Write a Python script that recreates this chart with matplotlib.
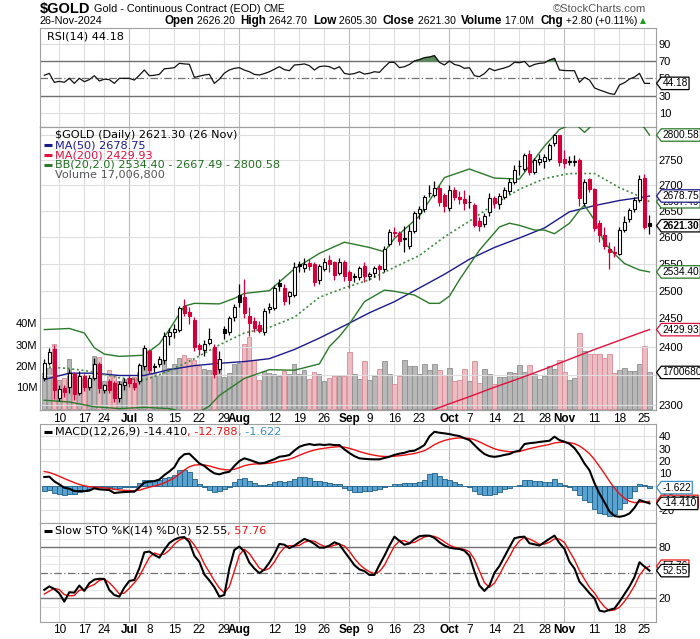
import numpy as np
import pandas as pd
import matplotlib
matplotlib.use("Agg")
import matplotlib.pyplot as plt
from matplotlib.path import Path
from matplotlib.transforms import blended_transform_factory as blend
from matplotlib.ticker import NullLocator

plt.rcParams['font.family'] = ['DejaVu Sans']

# trading days shown (Jun 5 .. Nov 26 2024, CME holidays removed)
days = pd.bdate_range('2024-06-05', '2024-11-26')
days = days.drop(pd.to_datetime(['2024-06-19', '2024-07-04', '2024-09-02']))

tick_dates = ['2024-06-10', '2024-06-17', '2024-06-24', '2024-07-01', '2024-07-08', '2024-07-15',
              '2024-07-22', '2024-07-29', '2024-08-01', '2024-08-12', '2024-08-19', '2024-08-26',
              '2024-09-03', '2024-09-09', '2024-09-16', '2024-09-23', '2024-10-01', '2024-10-07',
              '2024-10-14', '2024-10-21', '2024-10-28', '2024-11-01', '2024-11-11', '2024-11-18',
              '2024-11-25']
tick_lbls = ['10', '17', '24', 'Jul', '8', '15', '22', '29', 'Aug', '12', '19', '26',
             'Sep', '9', '16', '23', 'Oct', '7', '14', '21', '28', 'Nov', '11', '18', '25']

prev_close = 2367
opens = [2345, 2372, 2395, 2312, 2328, 2331, 2352, 2320, 2349, 2331,
         2345, 2370, 2325, 2340, 2338, 2311, 2333, 2345, 2338, 2340,
         2366, 2393, 2366, 2369, 2376, 2419, 2425, 2430, 2472, 2462,
         2447, 2403, 2394, 2406, 2400, 2362, 2431, 2426, 2453, 2492,
         2488, 2455, 2446, 2438, 2425, 2466, 2468, 2514, 2505, 2490,
         2493, 2549, 2541, 2551, 2549, 2520, 2540, 2556, 2553, 2533,
         2552, 2535, 2526, 2525, 2545, 2526, 2533, 2546, 2540, 2587,
         2610, 2607, 2596, 2583, 2612, 2645, 2653, 2684, 2681, 2695,
         2680, 2656, 2690, 2676, 2672, 2668, 2661, 2630, 2624, 2648,
         2674, 2663, 2677, 2689, 2707, 2738, 2733, 2763, 2727, 2746,
         2748, 2753, 2785, 2800, 2753, 2748, 2746, 2751, 2666, 2712,
         2692, 2626, 2604, 2577, 2572, 2568, 2613, 2634, 2653, 2671,
         2715, 2626.2]
highs = [2378, 2398, 2403, 2334, 2333, 2362, 2356, 2358, 2352, 2350,
         2381, 2373, 2336, 2344, 2340, 2340, 2345, 2350, 2345, 2372,
         2403, 2396, 2372, 2384, 2425, 2432, 2440, 2472, 2484, 2470,
         2452, 2406, 2412, 2432, 2405, 2392, 2436, 2454, 2476, 2512,
         2522, 2470, 2452, 2445, 2468, 2478, 2510, 2522, 2512, 2500,
         2552, 2554, 2560, 2558, 2552, 2550, 2560, 2565, 2555, 2560,
         2556, 2538, 2532, 2546, 2552, 2535, 2545, 2550, 2583, 2615,
         2618, 2612, 2620, 2622, 2650, 2660, 2680, 2700, 2709, 2700,
         2684, 2700, 2696, 2688, 2690, 2680, 2665, 2638, 2645, 2685,
         2678, 2685, 2697, 2714, 2740, 2750, 2765, 2770, 2755, 2762,
         2763, 2784, 2802, 2801, 2770, 2758, 2760, 2755, 2712, 2715,
         2694, 2632, 2618, 2590, 2583, 2618, 2640, 2655, 2677, 2720,
         2722, 2642.7]
lows = [2340, 2368, 2310, 2306, 2314, 2320, 2308, 2316, 2324, 2326,
        2342, 2320, 2320, 2320, 2305, 2305, 2326, 2330, 2325, 2336,
        2360, 2353, 2356, 2364, 2370, 2403, 2415, 2425, 2455, 2440,
        2393, 2386, 2384, 2402, 2345, 2355, 2413, 2420, 2446, 2470,
        2450, 2418, 2425, 2424, 2420, 2460, 2465, 2500, 2474, 2475,
        2488, 2535, 2535, 2538, 2508, 2512, 2536, 2535, 2520, 2528,
        2518, 2505, 2515, 2520, 2515, 2520, 2525, 2520, 2535, 2582,
        2600, 2585, 2572, 2578, 2608, 2635, 2648, 2676, 2676, 2660,
        2647, 2650, 2670, 2664, 2652, 2655, 2618, 2612, 2618, 2640,
        2655, 2654, 2672, 2683, 2703, 2720, 2728, 2720, 2722, 2740,
        2735, 2747, 2778, 2738, 2735, 2740, 2738, 2659, 2660, 2686,
        2612, 2590, 2578, 2540, 2563, 2566, 2610, 2628, 2648, 2668,
        2615, 2605.3]
closes = [2372, 2390, 2325, 2327, 2322, 2354, 2318, 2349, 2331, 2346,
          2369, 2328, 2333, 2326, 2311, 2336, 2339, 2338, 2331, 2368,
          2397, 2360, 2365, 2378, 2419, 2426, 2431, 2469, 2459, 2455,
          2399, 2395, 2405, 2413, 2352, 2378, 2424, 2450, 2471, 2480,
          2460, 2442, 2432, 2428, 2463, 2471, 2505, 2508, 2482, 2497,
          2543, 2545, 2549, 2546, 2515, 2546, 2552, 2549, 2528, 2552,
          2526, 2520, 2525, 2541, 2526, 2530, 2541, 2540, 2578, 2610,
          2608, 2593, 2597, 2612, 2645, 2653, 2676, 2685, 2694, 2668,
          2659, 2690, 2677, 2672, 2666, 2667, 2623, 2621, 2639, 2674,
          2665, 2679, 2690, 2707, 2730, 2737, 2760, 2727, 2751, 2753,
          2757, 2780, 2800, 2746, 2744, 2746, 2749, 2674, 2707, 2692,
          2617, 2604, 2583, 2571, 2569, 2613, 2629, 2651, 2671, 2712,
          2618.5, 2621.3]
# volume in millions of contracts
volume = [16.8, 19.0, 30.1, 13.7, 14.6, 23.4, 16.1, 14.9, 14.6, 13.7,
          24.5, 24.2, 12.8, 18.3, 15.7, 12.8, 14.1, 14.6, 14.9, 17.3,
          28.6, 27.4, 16.6, 15.7, 22.9, 19.3, 21.1, 23.9, 25.0, 23.5,
          22.6, 19.9, 18.8, 18.0, 28.5, 23.4, 14.9, 16.6, 21.1, 21.4,
          30.4, 33.5, 22.6, 13.7, 17.7, 16.8, 16.1, 15.2, 17.7, 16.1,
          21.1, 16.1, 18.3, 14.1, 17.3, 16.1, 12.8, 14.4, 15.2, 15.2,
          15.5, 26.5, 16.1, 14.1, 22.1, 13.7, 15.2, 18.8, 22.1, 16.1,
          11.5, 15.2, 22.6, 19.9, 19.9, 16.1, 20.8, 18.0, 20.8, 18.0,
          15.7, 19.3, 12.8, 13.4, 18.8, 12.8, 22.3, 12.0, 18.8, 16.1,
          11.8, 14.9, 14.9, 17.3, 16.8, 20.3, 17.3, 20.3, 16.1, 14.1,
          15.2, 19.9, 18.5, 23.0, 17.3, 13.7, 14.6, 35.5, 27.0, 25.4,
          25.4, 25.4, 23.5, 25.4, 16.6, 18.3, 19.3, 17.6, 17.6, 21.1,
          29.2, 17.0068]

ma50_idx = [0, 5, 10, 15, 20, 25, 30, 35, 40, 45, 50, 55, 60, 65, 70, 75, 80, 85, 90, 95,
            100, 105, 110, 115, 120, 121]
ma50 = [2343, 2354, 2354, 2350, 2350, 2360, 2367, 2371, 2374, 2379, 2395, 2415, 2437, 2460,
        2480, 2505, 2530, 2558, 2580, 2598, 2617, 2648, 2660, 2670, 2677, 2678.75]
ma200_idx = [75, 80, 85, 90, 95, 100, 105, 110, 115, 120, 121]
ma200 = [2283, 2299, 2314, 2330, 2345, 2361, 2378, 2395, 2411, 2427, 2429.93]
bbu_idx = [0, 5, 8, 10, 12, 15, 20, 23, 25, 28, 30, 35, 38, 40, 45, 50, 55, 60, 65, 68, 70,
           75, 80, 85, 90, 95, 100, 103, 106, 108, 110, 115, 120, 121]
bb_upper = [2430, 2432, 2424, 2398, 2387, 2383, 2385, 2405, 2430, 2472, 2477, 2476, 2486,
            2495, 2500, 2540, 2569, 2590, 2580, 2572, 2597, 2640, 2715, 2732, 2714, 2712,
            2778, 2812, 2825, 2806, 2825, 2860, 2815, 2800.58]
bbm_idx = [0, 5, 10, 15, 20, 25, 30, 35, 40, 45, 50, 55, 60, 65, 70, 75, 80, 85, 90, 95,
           100, 105, 110, 115, 120, 121]
bb_mid = [2365, 2362, 2356, 2346, 2342, 2358, 2379, 2403, 2424, 2434, 2452, 2488, 2505,
          2520, 2543, 2565, 2600, 2630, 2663, 2692, 2713, 2723, 2723, 2695, 2674, 2667.49]
bbl_idx = [0, 5, 10, 15, 20, 25, 30, 33, 35, 40, 45, 50, 55, 57, 59, 61, 64, 68, 70, 74, 77,
           79, 81, 83, 87, 91, 93, 95, 98, 100, 102, 105, 107, 108, 110, 112, 114, 116, 119, 121]
bb_lower = [2308, 2305, 2297, 2294, 2296, 2294, 2284, 2298, 2316, 2345, 2360, 2359, 2370,
            2400, 2418, 2440, 2480, 2501, 2499, 2492, 2477, 2477, 2490, 2520, 2575, 2619,
            2626, 2622, 2613, 2613, 2606, 2626, 2651, 2661, 2632, 2589, 2568, 2550, 2538, 2534.40]

rsi = [53.5, 55.7, 45.4, 46.5, 45.4, 50.0, 44.2, 50.0, 46.1, 48.5,
       53.0, 47.0, 49.0, 48.5, 44.2, 50.0, 50.0, 50.0, 48.0, 53.5,
       59.6, 53.0, 53.5, 54.6, 61.0, 61.5, 62.3, 67.3, 66.6, 66.2,
       51.1, 52.5, 53.8, 54.6, 44.2, 49.0, 56.0, 59.6, 61.5, 62.3,
       59.5, 57.6, 54.5, 53.8, 55.5, 57.6, 60.5, 63.4, 60.0, 58.8,
       65.4, 65.8, 66.6, 64.6, 59.6, 63.5, 64.2, 63.4, 60.7, 63.4,
       55.7, 54.6, 55.5, 57.6, 54.9, 55.8, 57.6, 56.9, 63.0, 68.4,
       68.4, 62.3, 63.4, 66.0, 70.0, 71.5, 73.8, 74.5, 76.1, 68.4,
       65.4, 70.0, 66.0, 64.6, 61.5, 62.3, 53.0, 51.9, 55.5, 61.5,
       58.8, 60.5, 62.0, 64.0, 68.4, 68.0, 69.5, 63.4, 66.0, 67.3,
       67.8, 71.0, 73.0, 59.6, 59.0, 58.8, 58.8, 45.4, 51.1, 48.0,
       39.0, 36.5, 34.6, 32.5, 31.5, 42.3, 45.0, 49.2, 51.5, 55.7,
       44.2, 44.18]
macd = [7.0, 7.3, 3.5, 1.0, -1.7, -2.5, -4.4, -4.4, -4.5, -4.0,
        -2.2, -3.0, -3.3, -3.6, -6.0, -5.5, -5.2, -5.0, -4.9, -1.5,
        2.5, 3.2, 3.7, 5.0, 8.6, 11.5, 15.0, 22.0, 25.5, 26.0,
        22.0, 18.1, 16.0, 12.7, 10.0, 9.2, 10.5, 11.3, 16.0, 20.0,
        22.2, 21.0, 19.5, 18.1, 18.5, 20.0, 21.5, 23.5, 24.0, 24.9,
        28.5, 31.6, 33.0, 33.8, 33.0, 33.5, 33.0, 33.5, 33.0, 33.0,
        29.5, 26.5, 24.0, 22.2, 21.8, 21.5, 21.4, 21.4, 22.5, 23.5,
        25.0, 26.0, 26.7, 28.0, 28.4, 30.5, 33.0, 40.0, 43.8, 43.0,
        42.5, 41.9, 41.0, 40.3, 38.5, 37.1, 33.0, 29.0, 25.7, 24.0,
        23.4, 24.0, 25.0, 25.7, 27.5, 28.4, 33.8, 34.5, 34.9, 35.5,
        36.0, 36.5, 39.8, 37.0, 35.7, 34.0, 30.5, 25.0, 18.0, 12.5,
        2.0, -6.5, -13.5, -21.0, -24.7, -25.3, -24.5, -22.6, -18.0, -11.7,
        -13.1, -14.41]
signal = [11.5, 10.7, 9.3, 7.6, 5.8, 4.1, 2.4, 1.0, -0.1, -0.9,
          -1.2, -1.5, -1.9, -2.2, -3.0, -3.5, -3.8, -4.0, -4.2, -3.7,
          -2.4, -1.3, -0.3, 0.8, 2.3, 4.2, 6.3, 9.5, 12.7, 15.3,
          16.7, 17.0, 16.8, 16.0, 14.8, 13.7, 13.0, 12.7, 13.3, 14.7,
          16.2, 17.1, 17.6, 17.7, 17.9, 18.3, 18.9, 19.9, 20.7, 21.5,
          22.9, 24.7, 26.3, 27.8, 28.9, 29.8, 30.4, 31.0, 31.4, 31.7,
          31.3, 30.3, 29.1, 27.7, 26.5, 25.5, 24.7, 24.0, 23.7, 23.7,
          23.9, 24.3, 24.8, 25.5, 26.1, 27.2, 28.4, 30.7, 33.3, 35.2,
          36.7, 37.7, 38.4, 38.8, 38.7, 38.4, 37.3, 35.6, 33.6, 31.7,
          30.0, 28.8, 28.1, 27.6, 27.6, 27.7, 28.9, 30.1, 31.0, 31.9,
          32.7, 33.5, 34.7, 35.2, 35.3, 35.0, 34.1, 32.3, 29.4, 26.0,
          21.2, 15.6, 9.8, 3.6, -2.0, -6.7, -10.2, -12.7, -13.8, -13.4,
          -13.3, -12.788]
hist = [-4.5, -3.4, -5.8, -6.6, -7.5, -6.6, -6.8, -5.4, -4.4, -3.1,
        -1.0, -1.5, -1.4, -1.4, -3.0, -2.0, -1.4, -1.0, -0.7, 2.2,
        4.9, 4.5, 4.0, 4.2, 6.3, 7.3, 8.7, 12.5, 12.8, 10.7,
        5.3, 1.1, -0.8, -3.3, -4.8, -4.5, -2.5, -1.4, 2.7, 5.3,
        6.0, 3.9, 1.9, 0.4, 0.6, 1.7, 2.6, 3.6, 3.3, 3.4,
        5.6, 6.9, 6.7, 6.0, 4.1, 3.7, 2.6, 2.5, 1.6, 1.3,
        -1.8, -3.8, -5.1, -5.5, -4.7, -4.0, -3.3, -2.6, -1.2, -0.2,
        1.1, 1.7, 1.9, 2.5, 2.3, 3.3, 4.6, 9.3, 10.5, 7.8,
        5.8, 4.2, 2.6, 1.5, -0.2, -1.3, -4.3, -6.6, -7.9, -7.7,
        -6.6, -4.8, -3.1, -1.9, -0.1, 0.7, 4.9, 4.4, 3.9, 3.6,
        3.3, 3.0, 5.1, 1.8, 0.4, -1.0, -3.6, -7.3, -11.4, -13.5,
        -19.2, -22.1, -23.3, -24.6, -22.7, -18.6, -14.3, -9.9, -4.2, 1.7,
        0.2, -1.622]
sto_k = [30.0, 34.0, 31.0, 25.9, 16.1, 27.1, 26.7, 35.0, 28.7, 37.8,
         42.0, 43.0, 42.8, 29.8, 23.9, 22.0, 32.6, 40.4, 41.6, 55.3,
         74.0, 75.0, 71.0, 67.8, 77.0, 85.0, 89.0, 91.4, 92.0, 86.0,
         70.0, 63.0, 48.0, 41.0, 33.0, 22.0, 24.0, 55.3, 76.9, 80.8,
         75.0, 62.0, 55.0, 49.5, 54.0, 62.0, 72.0, 84.0, 83.0, 79.0,
         82.0, 86.0, 89.8, 87.5, 84.0, 79.6, 79.6, 82.0, 85.9, 83.5,
         75.0, 67.1, 59.0, 54.0, 52.0, 47.5, 47.5, 59.2, 70.0, 82.0,
         92.5, 87.5, 83.0, 84.5, 89.5, 93.0, 93.7, 93.7, 91.0, 85.9,
         82.0, 79.6, 78.5, 78.0, 76.0, 70.0, 51.4, 35.0, 28.7, 35.0,
         50.0, 58.0, 69.0, 80.0, 90.6, 92.0, 92.5, 84.7, 83.5, 82.0,
         86.0, 90.0, 93.7, 85.0, 78.0, 63.0, 55.0, 39.6, 33.0, 26.0,
         20.0, 5.5, 4.3, 6.5, 8.0, 16.1, 25.0, 34.0, 45.0, 62.4,
         57.3, 52.55]
sto_d = [25.0, 28.5, 31.5, 30.3, 24.3, 23.0, 23.3, 29.6, 30.1, 33.8,
         36.2, 41.0, 42.6, 38.5, 32.2, 25.2, 26.2, 31.7, 38.2, 45.8,
         57.0, 68.1, 73.3, 71.3, 71.9, 76.6, 83.7, 88.5, 90.8, 89.8,
         82.7, 73.0, 60.3, 50.7, 40.7, 32.0, 26.3, 33.8, 52.1, 71.0,
         77.6, 72.6, 64.0, 55.5, 52.8, 55.2, 62.7, 72.7, 79.7, 82.0,
         81.3, 82.3, 85.9, 87.8, 87.1, 83.7, 81.1, 80.4, 82.5, 83.8,
         81.5, 75.2, 67.0, 60.0, 55.0, 51.2, 49.0, 51.4, 58.9, 70.4,
         81.5, 87.3, 87.7, 85.0, 85.7, 89.0, 92.1, 93.5, 92.8, 90.2,
         86.3, 82.5, 80.0, 78.7, 77.5, 74.7, 65.8, 52.1, 38.4, 32.9,
         37.9, 47.7, 59.0, 69.0, 79.9, 87.5, 91.7, 89.7, 86.9, 83.4,
         83.8, 86.0, 89.9, 89.6, 85.6, 75.3, 65.3, 52.5, 42.5, 32.9,
         26.3, 17.2, 9.9, 5.4, 6.3, 9.5, 16.4, 25.0, 34.7, 47.1,
         54.9, 57.76]

# ------------------------------------------------------------------
RED = '#d2003a'
NAVY = '#1a1a8c'
CRIM = '#e0103c'
GREEN = '#2a7a2a'
GRID = '#dedede'
TICKF = 'Liberation Sans'
LEGSZ = 8.1

x = np.arange(len(days))
o = np.array(opens); h = np.array(highs); l = np.array(lows); c = np.array(closes)
prev = np.r_[prev_close, c[:-1]]
down = c < prev
col = np.where(down, RED, 'black')
face = np.where(c > o, 'white', col)
tpos = days.get_indexer(pd.to_datetime(tick_dates))
is_month = [not s.isdigit() for s in tick_lbls]

W, H = 700, 639
fig = plt.figure(figsize=(7, 6.39), dpi=100)


def box(top, bottom):
    return [40 / W, 1 - bottom / H, 616 / W, (bottom - top) / H]


ax_rsi = fig.add_axes(box(28, 127))
ax = fig.add_axes(box(127, 410))
ax_macd = fig.add_axes(box(424, 523.3))
ax_sto = fig.add_axes(box(523.3, 621.7))
axv = ax.twinx()


def base_style(a, vgrid=True):
    a.set_xlim(-0.86, 122.3)
    for s in a.spines.values():
        s.set_color('#a0a0a0')
        s.set_linewidth(0.8)
    a.tick_params(length=0, labelsize=8, pad=2)
    if vgrid:
        for p, m in zip(tpos, is_month):
            a.axvline(p, color='#bcbcbc' if m else GRID, lw=0.8, zorder=0)


def right_ticks(a, vals, labels=None):
    a.yaxis.tick_right()
    a.set_yticks(vals)
    a.set_yticklabels(labels if labels else [str(v) for v in vals], fontfamily=TICKF, fontsize=8)
    a.yaxis.set_minor_locator(NullLocator())


def xlabels(a, show):
    a.set_xticks(tpos)
    if show:
        a.set_xticklabels(tick_lbls, fontfamily=TICKF, fontsize=8.5)
        for t, m in zip(a.get_xticklabels(), is_month):
            if m:
                t.set_fontweight('bold')
    else:
        a.set_xticklabels([])


def tag_shape(x0, y0, width, height, mutation_size):
    # value tag: box with a pointed left end
    pad = 0.12 * mutation_size
    x0 -= pad
    y0 -= pad
    w = width + 2 * pad
    hh = height + 2 * pad
    tip = hh * 0.38
    verts = [(x0, y0), (x0 + w, y0), (x0 + w, y0 + hh), (x0, y0 + hh), (x0 - tip, y0 + hh / 2), (x0, y0)]
    return Path(verts, closed=True)


def tag(a, y, s, ec, bold=False, ytrans=None):
    tr = blend(a.transAxes, ytrans if ytrans is not None else a.transData)
    a.text(1.0105, y, s, transform=tr, ha='left', va='center', fontsize=7.3, fontfamily=TICKF,
           fontweight='bold' if bold else 'normal', clip_on=False, zorder=20,
           bbox=dict(boxstyle=tag_shape, fc='white', ec=ec, lw=0.9))


def seq(a, xf, yf, parts, size=LEGSZ):
    r = fig.canvas.get_renderer()
    xp, yp = a.transAxes.transform((xf, yf))
    for s, color in parts:
        t = fig.text(xp / W, yp / H, s, color=color, fontsize=size, va='center', ha='left')
        xp = t.get_window_extent(r).x1


def dash(a, yf, color, lw=2.2):
    a.plot([0.006, 0.019], [yf, yf], transform=a.transAxes, color=color, lw=lw,
           solid_capstyle='butt', clip_on=False, zorder=20)


# ---------------- RSI ----------------
base_style(ax_rsi)
ax_rsi.set_ylim(-6.1, 108)
for v in (10, 90):
    ax_rsi.axhline(v, color=GRID, lw=0.8, zorder=0)
for v in (30, 70):
    ax_rsi.axhline(v, color='#707070', lw=1.0, zorder=1)
ax_rsi.axhline(50, color='#707070', lw=0.9, ls=(0, (6, 2, 1, 2)), zorder=1)
rsi_a = np.array(rsi)
ax_rsi.fill_between(x, rsi_a, 70, where=rsi_a >= 70, interpolate=True, color='#5c8c5c', zorder=2)
ax_rsi.plot(x, rsi_a, color='#111111', lw=0.9, zorder=3)
right_ticks(ax_rsi, [10, 30, 50, 70, 90])
xlabels(ax_rsi, False)
seq(ax_rsi, 0.012, 0.919, [('RSI(14) 44.18', 'black')])
tag(ax_rsi, 44.18, '44.18', 'black')

# ---------------- price + volume ----------------
axv.patch.set_visible(True)
axv.patch.set_facecolor('white')
ax.set_zorder(axv.get_zorder() + 1)
ax.patch.set_visible(False)
base_style(axv)
base_style(ax, vgrid=False)
axv.set_ylim(-0.47, 131.2)
axv.bar(x, volume, width=0.84, color=np.where(down, '#ebbcc1', '#b8b8b8'),
        edgecolor=np.where(down, '#d88a95', '#8e8e8e'), linewidth=0.6, zorder=2)
axv.yaxis.tick_left()
axv.set_yticks([10, 20, 30, 40])
axv.set_yticklabels(['10M', '20M', '30M', '40M'], fontfamily=TICKF, fontsize=8)
axv.tick_params(axis='y', length=0, pad=2)

ax.set_yscale('log')
ax.set_ylim(2291.6, 2817)
for v in range(2300, 2801, 50):
    ax.axhline(v, color=GRID, lw=0.8, zorder=0)
right_ticks(ax, list(range(2300, 2751, 50)))
ax.yaxis.set_minor_formatter(plt.NullFormatter())
xlabels(ax, True)

ax.plot(ma200_idx, ma200, color=CRIM, lw=1.0, zorder=3)
ax.plot(ma50_idx, ma50, color=NAVY, lw=1.0, zorder=3)
ax.plot(bbu_idx, bb_upper, color=GREEN, lw=1.0, zorder=3)
ax.plot(bbl_idx, bb_lower, color=GREEN, lw=1.0, zorder=3)
ax.plot(bbm_idx, bb_mid, color='#3d8c3d', lw=1.2, ls=(0, (1.2, 1.6)), zorder=3)

ax.vlines(x, l, h, colors=col, lw=0.9, zorder=4)
ax.bar(x, np.maximum(np.abs(c - o), 0.6), bottom=np.minimum(o, c), width=0.7,
       color=face, edgecolor=col, linewidth=0.8, zorder=5)

seq(ax, 0.024, 0.972, [('$GOLD (Daily) 2621.30 (26 Nov)', 'black')])
seq(ax, 0.024, 0.936, [('MA(50) 2678.75', NAVY)])
seq(ax, 0.024, 0.901, [('MA(200) 2429.93', CRIM)])
seq(ax, 0.024, 0.867, [('BB(20,2.0) 2534.40 - 2667.49 - 2800.58', '#1f6f1f')])
seq(ax, 0.024, 0.832, [('Volume 17,006,800', '#555555')])
dash(ax, 0.936, NAVY)
dash(ax, 0.901, CRIM)
dash(ax, 0.867, GREEN)

tag(ax, 17.0068, '1700680', 'black', ytrans=axv.transData)
tag(ax, 2800.58, '2800.58', GREEN)
tag(ax, 2667.49, '2667.49', GREEN)
tag(ax, 2678.75, '2678.75', NAVY)
tag(ax, 2534.40, '2534.40', GREEN)
tag(ax, 2429.93, '2429.93', CRIM)
tag(ax, 2621.30, '2621.30', 'black', bold=True)

# ---------------- MACD ----------------
base_style(ax_macd)
ax_macd.set_ylim(-30.6, 50.1)
for v in range(-20, 41, 10):
    ax_macd.axhline(v, color=GRID, lw=0.8, zorder=0)
ax_macd.bar(x, hist, width=1.0, color='#5aa2cf', edgecolor='#1f5f87', linewidth=0.6, zorder=2)
ax_macd.plot(x, signal, color='#ee1111', lw=1.0, zorder=3)
ax_macd.plot(x, macd, color='black', lw=1.5, zorder=4)
right_ticks(ax_macd, [-20, -10, 0, 10, 20, 30, 40])
xlabels(ax_macd, False)
seq(ax_macd, 0.024, 0.922, [('MACD(12,26,9) -14.410', 'black'), (', -12.788', '#ee1111'),
                            (', -1.622', '#3a8fc4')])
dash(ax_macd, 0.922, 'black')
tag(ax_macd, -12.788, '-12.788', '#ee1111')
tag(ax_macd, -14.41, '-14.410', 'black')
tag(ax_macd, -1.622, '-1.622', '#3a8fc4')

# ---------------- Slow STO ----------------
base_style(ax_sto)
ax_sto.set_ylim(-7.5, 108.2)
for v in (10, 30, 40, 60, 70, 90):
    ax_sto.axhline(v, color='#e8e8e8', lw=0.8, zorder=0)
for v in (20, 80):
    ax_sto.axhline(v, color='#707070', lw=1.0, zorder=1)
ax_sto.axhline(50, color='#707070', lw=0.9, ls=(0, (6, 2, 1, 2)), zorder=1)
ax_sto.plot(x, sto_d, color='#ee1111', lw=1.0, zorder=3)
ax_sto.plot(x, sto_k, color='black', lw=1.5, zorder=4)
right_ticks(ax_sto, [20, 50, 80])
xlabels(ax_sto, True)
seq(ax_sto, 0.024, 0.925, [('Slow STO %K(14) %D(3) 52.55', 'black'), (', 57.76', '#ee1111')])
dash(ax_sto, 0.925, 'black')
tag(ax_sto, 57.76, '57.76', '#ee1111')
tag(ax_sto, 52.55, '52.55', 'black')

# ---------------- header ----------------
r = fig.canvas.get_renderer()
t = fig.text(40 / W, 1 - 9 / H, '$GOLD', fontsize=10.5, fontweight='bold', fontfamily=TICKF, va='center')
xp = t.get_window_extent(r).x1 + 3
t = fig.text(xp / W, 1 - 9.5 / H, 'Gold - Continuous Contract (EOD)', fontsize=7.8, fontfamily=TICKF,
             va='center')
xp = t.get_window_extent(r).x1 + 3
fig.text(xp / W, 1 - 9.5 / H, 'CME', fontsize=7, fontfamily=TICKF, va='center')
fig.text(646 / W, 1 - 9.5 / H, '\u00a9StockCharts.com', fontsize=8, fontfamily=TICKF, color='#555555',
         ha='right', va='center')
fig.text(40 / W, 1 - 21 / H, '26-Nov-2024', fontsize=7.8, fontfamily=TICKF, va='center')
hdr = [('Open', True), (' 2626.20  ', False), ('High', True), (' 2642.70  ', False),
       ('Low', True), (' 2605.30  ', False), ('Close', True), (' 2621.30  ', False),
       ('Volume', True), (' 17.0M  ', False), ('Chg', True), (' +2.80 (+0.11%) ', False),
       ('\u25b2', None)]
pieces = []
for s, b in hdr:
    if b is None:
        t = fig.text(0, 1 - 21 / H, s, fontsize=5.5, color='#1a9a1a', va='center')
    else:
        t = fig.text(0, 1 - 21 / H, s, fontsize=8.4 if b else 7.6, fontweight='bold' if b else 'normal',
                     fontfamily=TICKF, va='center')
    pieces.append(t)
widths = [p.get_window_extent(r).width for p in pieces]
xp = 646 - sum(widths)
for p, wd in zip(pieces, widths):
    p.set_x(xp / W)
    xp += wd

fig.savefig('out.png', dpi=100)
